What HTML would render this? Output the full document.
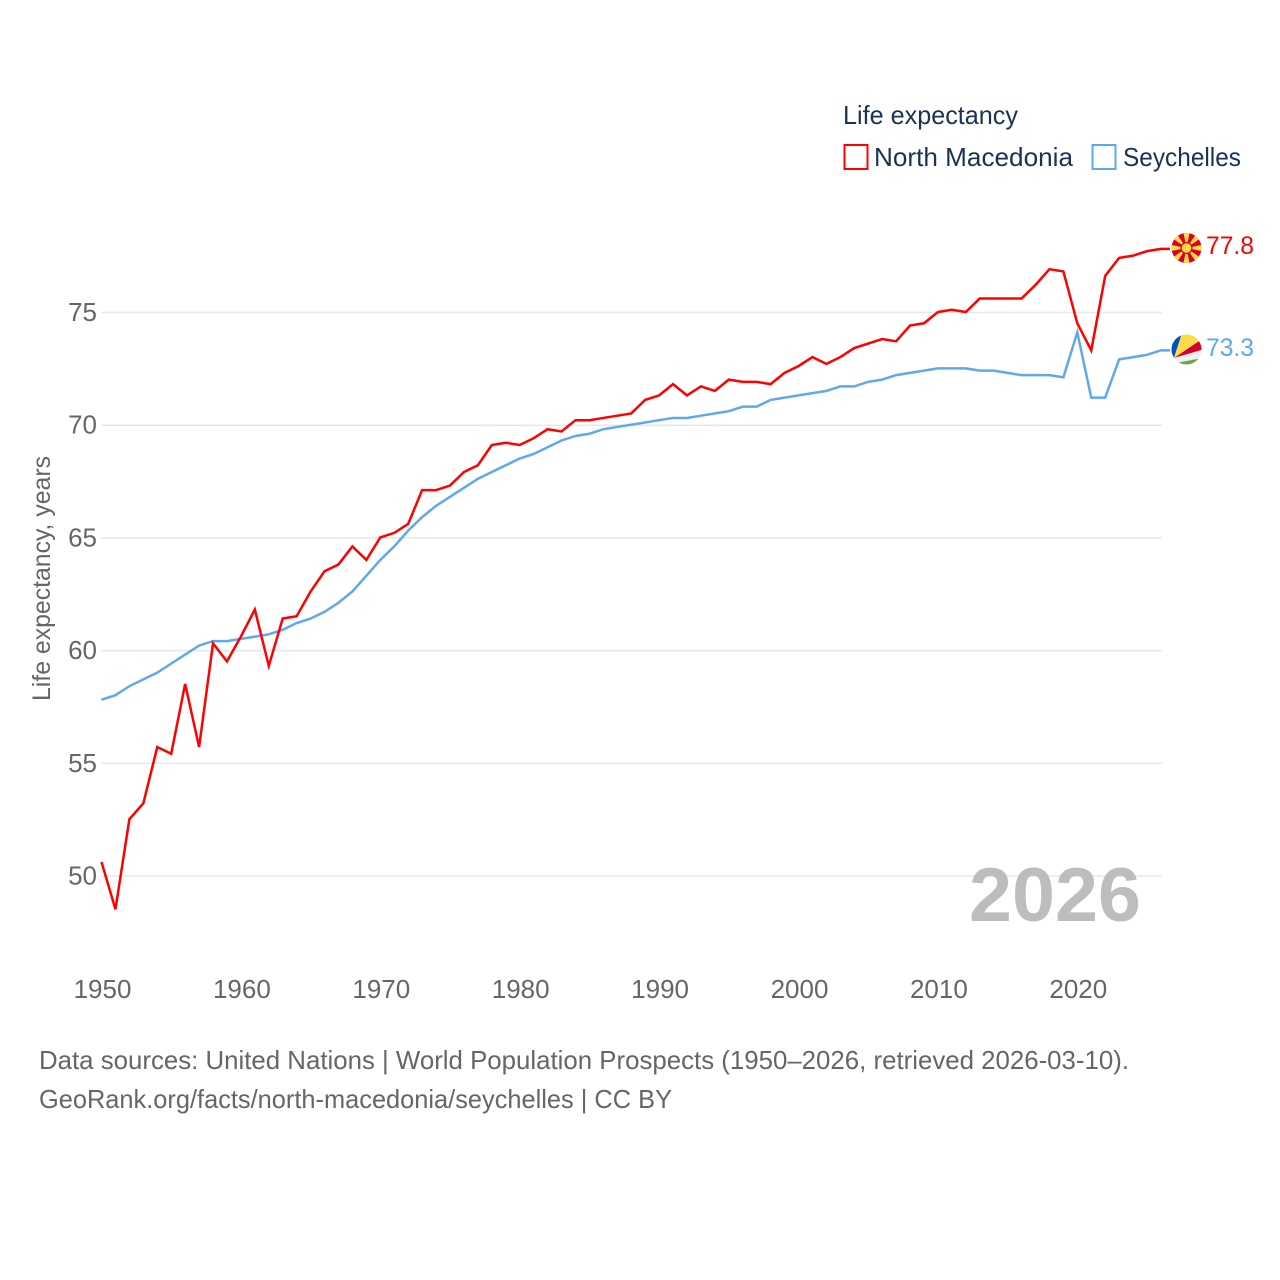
<!DOCTYPE html>
<html lang="en">
<head>
<meta charset="utf-8">
<title>Life expectancy: North Macedonia and Seychelles</title>
<style>
html,body{margin:0;padding:0;background:#fff;width:1280px;height:1280px;overflow:hidden}
svg{display:block}
text{font-family:"Liberation Sans",sans-serif}
</style>
</head>
<body>
<svg id="chart" xmlns="http://www.w3.org/2000/svg" width="1280" height="1280" viewBox="0 0 1280 1280">
  <defs>
    <clipPath id="mk-clip"><circle cx="1186.5" cy="248" r="15"/></clipPath>
    <clipPath id="sc-clip"><circle cx="1186.5" cy="349.5" r="15"/></clipPath>
  </defs>
  <g id="grid"></g>
  <g id="y-ticks"></g>
  <g id="x-ticks"></g>
  <text transform="translate(50,701) rotate(-90)" font-size="25" fill="#666" textLength="245" lengthAdjust="spacingAndGlyphs">Life expectancy, years</text>
  <text x="969" y="921" font-size="76" font-weight="700" fill="#bdbdbd" textLength="172" lengthAdjust="spacingAndGlyphs">2026</text>
  <g id="series"></g>

  <g clip-path="url(#mk-clip)">
    <rect x="1170" y="232" width="33" height="32" fill="#d80027"/>
    <path fill="#ffda44" d="M1186.5 248L1183.3 232H1189.7ZM1186.5 248L1183.3 264H1189.700ZM1186.5 248L1170.500 244.800V251.200ZM1186.5 248L1202.500 244.800V251.200ZM1186.5 248L1199.900 238.800L1195.700 234.600ZM1186.5 248L1173.100 238.800L1177.300 234.600ZM1186.5 248L1199.900 257.200L1195.700 261.400ZM1186.5 248L1173.100 257.200L1177.300 261.400Z"/>
    <circle cx="1186.5" cy="248" r="6" fill="#d80027"/>
    <circle cx="1186.5" cy="248" r="4.800" fill="#ffda44"/>
  </g>
  <g clip-path="url(#sc-clip)">
    <rect x="1170" y="333" width="33" height="33" fill="#f0f0f0"/>
    <path fill="#0052b4" d="M1174 358L1165 340V330H1183Z"/>
    <path fill="#ffda44" d="M1174 358L1183 330H1205V336Z"/>
    <path fill="#d80027" d="M1174 358L1205 337V349Z"/>
    <path fill="#f0f0f0" d="M1174 358L1205 349V357.500L1176 363Z"/>
    <path fill="#6da544" d="M1176 363L1205 357.500V370H1170Z"/>
  </g>

  <text x="1206" y="254" font-size="25" fill="#ff0000" textLength="48" lengthAdjust="spacingAndGlyphs">77.8</text>
  <text x="1206" y="356" font-size="25" fill="#5fa8f0" textLength="48" lengthAdjust="spacingAndGlyphs">73.3</text>

  <g>
    <text x="843" y="124" font-size="26" fill="#1a3353" textLength="175" lengthAdjust="spacingAndGlyphs">Life expectancy</text>
    <rect x="844.500" y="145" width="23" height="24" fill="#fff" stroke="#ff0000" stroke-width="2"/>
    <text x="874" y="166" font-size="26" fill="#1a3353" textLength="199" lengthAdjust="spacingAndGlyphs">North Macedonia</text>
    <rect x="1092.500" y="145" width="23" height="24" fill="#fff" stroke="#5fa8f0" stroke-width="2"/>
    <text x="1123" y="166" font-size="26" fill="#1a3353" textLength="118" lengthAdjust="spacingAndGlyphs">Seychelles</text>
  </g>

  <text x="39" y="1069" font-size="26" fill="#666" textLength="1090" lengthAdjust="spacingAndGlyphs">Data sources: United Nations | World Population Prospects (1950–2026, retrieved 2026-03-10).</text>
  <text x="39" y="1108" font-size="26" fill="#666" textLength="633" lengthAdjust="spacingAndGlyphs">GeoRank.org/facts/north-macedonia/seychelles | CC BY</text>
</svg>
<script>
const startYear = 1950;
const yTickValues = [50, 55, 60, 65, 70, 75];
const xTickValues = [1950, 1960, 1970, 1980, 1990, 2000, 2010, 2020];
const northMacedonia = [50.6,48.5,52.5,53.2,55.7,55.4,58.5,55.7,60.3,59.5,60.6,61.8,59.3,61.4,61.5,62.6,63.5,63.8,64.6,64.0,65.0,65.2,65.6,67.1,67.1,67.3,67.9,68.2,69.1,69.2,69.1,69.4,69.8,69.7,70.2,70.2,70.3,70.4,70.5,71.1,71.3,71.8,71.3,71.7,71.5,72.0,71.9,71.9,71.8,72.3,72.6,73.0,72.7,73.0,73.4,73.6,73.8,73.7,74.4,74.5,75.0,75.1,75.0,75.6,75.6,75.6,75.6,76.2,76.9,76.8,74.5,73.3,76.6,77.4,77.5,77.7,77.8];
const seychelles = [57.8,58.0,58.4,58.7,59.0,59.4,59.8,60.2,60.4,60.4,60.5,60.6,60.7,60.9,61.2,61.4,61.7,62.1,62.6,63.3,64.0,64.6,65.3,65.9,66.4,66.8,67.2,67.6,67.9,68.2,68.5,68.7,69.0,69.3,69.5,69.6,69.8,69.9,70.0,70.1,70.2,70.3,70.3,70.4,70.5,70.6,70.8,70.8,71.1,71.2,71.3,71.4,71.5,71.7,71.7,71.9,72.0,72.2,72.3,72.4,72.5,72.5,72.5,72.4,72.4,72.3,72.2,72.2,72.2,72.1,74.1,71.2,71.2,72.9,73.0,73.1,73.3];

const NS = 'http://www.w3.org/2000/svg';
const xScale = function (year) { return 101.5 + (year - 1950) * 13.94; };
const yScale = function (value) { return 876 - (value - 50) * 22.54; };
const plotRight = xScale(2026) + 1;

const grid = document.getElementById('grid');
const yTicks = document.getElementById('y-ticks');
const xTicks = document.getElementById('x-ticks');
const seriesGroup = document.getElementById('series');

yTickValues.forEach(function (v) {
  const line = document.createElementNS(NS, 'line');
  
  
  line.setAttribute('x1', xScale(1950));
  line.setAttribute('x2', plotRight);
  line.setAttribute('y1', yScale(v));
  line.setAttribute('y2', yScale(v));
  line.setAttribute('stroke', '#e8e8e8');
  line.setAttribute('stroke-width', '1.5');
  grid.appendChild(line);

  const label = document.createElementNS(NS, 'text');
  
  
  label.setAttribute('x', 97);
  label.setAttribute('y', yScale(v) + 8.5);
  label.setAttribute('text-anchor', 'end');
  label.setAttribute('font-size', '26');
  label.setAttribute('fill', '#666');
  label.textContent = v;
  yTicks.appendChild(label);
});

xTickValues.forEach(function (year) {
  const label = document.createElementNS(NS, 'text');
  
  
  label.setAttribute('x', xScale(year) + 1);
  label.setAttribute('y', 998);
  label.setAttribute('text-anchor', 'middle');
  label.setAttribute('font-size', '26');
  label.setAttribute('fill', '#666');
  label.textContent = year;
  xTicks.appendChild(label);
});

function drawSeries(values, color, name) {
  const pts = values.map(function (v, i) {
    return xScale(startYear + i).toFixed(2) + ',' + (yScale(v) - 0.5).toFixed(2);
  });
  pts.push((plotRight + 8).toFixed(2) + ',' + (yScale(values[values.length - 1]) - 0.5).toFixed(2));
  const line = document.createElementNS(NS, 'polyline');
  
  
  line.setAttribute('points', pts.join(' '));
  line.setAttribute('fill', 'none');
  line.setAttribute('stroke', color);
  line.setAttribute('stroke-width', '2.5');
  line.setAttribute('stroke-linejoin', 'miter');
  seriesGroup.appendChild(line);
}
drawSeries(seychelles, '#5fa8f0', 'seychelles-line');
drawSeries(northMacedonia, '#ff0000', 'north-macedonia-line');
</script>
</body>
</html>
